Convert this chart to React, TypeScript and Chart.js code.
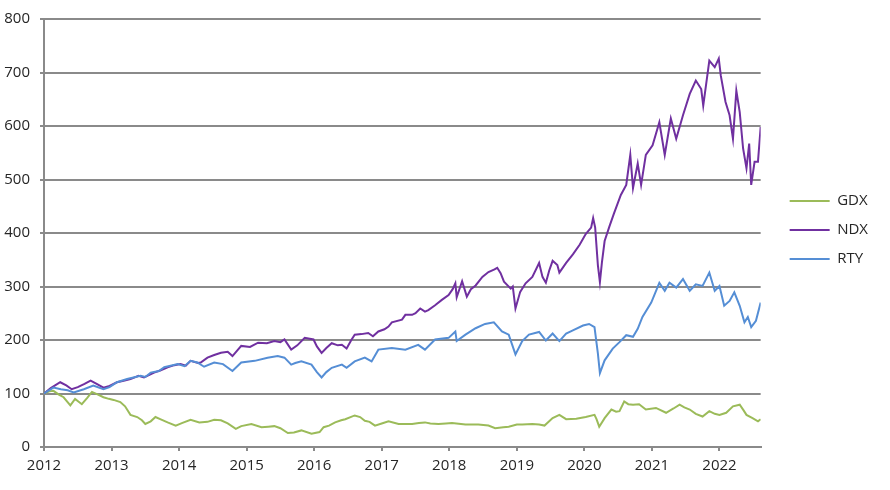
import React, { useEffect, useRef } from "react";
import { Chart, registerables } from "chart.js";

Chart.register(...registerables);

const yearTicks = [2012, 2013, 2014, 2015, 2016, 2017, 2018, 2019, 2020, 2021, 2022];
const xMin = 2012;
const xMax = 2022.61;

const gdxDates = [
  2012.0, 2012.08, 2012.14, 2012.22, 2012.29, 2012.39, 2012.46, 2012.56, 2012.64, 2012.71, 2012.8, 2012.88, 2012.96,
  2013.03, 2013.13, 2013.2, 2013.28, 2013.38, 2013.45, 2013.5, 2013.58, 2013.65, 2013.72, 2013.83, 2013.95,
  2014.05, 2014.17, 2014.3, 2014.42, 2014.52, 2014.62, 2014.72, 2014.84, 2014.92,
  2015.07, 2015.22, 2015.32, 2015.41, 2015.5, 2015.61, 2015.7, 2015.81, 2015.96,
  2016.08, 2016.14, 2016.22, 2016.31, 2016.4, 2016.46, 2016.6, 2016.68, 2016.75, 2016.82, 2016.9,
  2017.0, 2017.1, 2017.25, 2017.45, 2017.55, 2017.64, 2017.72, 2017.84, 2017.95,
  2018.04, 2018.24, 2018.43, 2018.58, 2018.68, 2018.8, 2018.88,
  2019.0, 2019.08, 2019.23, 2019.33, 2019.41, 2019.53, 2019.63, 2019.73, 2019.88,
  2020.02, 2020.15, 2020.18, 2020.22, 2020.3, 2020.4, 2020.47, 2020.52, 2020.59, 2020.65, 2020.72, 2020.81, 2020.91,
  2021.06, 2021.21, 2021.32, 2021.41, 2021.48, 2021.56, 2021.65, 2021.75, 2021.85, 2021.93,
  2022.0, 2022.1, 2022.2, 2022.3, 2022.36, 2022.4, 2022.49, 2022.57, 2022.61,
];
const gdxValues = [
  100, 104, 105, 98, 93, 78, 90, 80, 92, 103, 98, 93, 90,
  88, 84, 76, 60, 56, 50, 43, 48, 56, 52, 46, 40,
  45, 51, 46, 47, 51, 50, 44, 34, 39,
  43, 37, 38, 39, 35, 26, 27, 31, 25,
  28, 37, 40, 46, 50, 52, 59, 56, 49, 47, 40,
  44, 48, 43, 43, 45, 46, 44, 43, 44,
  45, 42, 42, 40, 35, 37, 38,
  42, 42, 43, 42, 40, 54, 60, 52, 53,
  56, 60, 52, 38, 54, 70, 66, 67, 85, 80, 79, 80, 70,
  73, 64, 72, 79, 74, 70, 62, 57, 67, 62,
  60, 64, 76, 79, 68, 60, 54, 48, 52,
];

const ndxDates = [
  2012.0, 2012.1, 2012.24, 2012.33, 2012.41, 2012.5, 2012.6, 2012.69, 2012.78, 2012.88, 2012.97,
  2013.08, 2013.18, 2013.28, 2013.4, 2013.48, 2013.63, 2013.72, 2013.83, 2013.93,
  2014.02, 2014.1, 2014.17, 2014.28, 2014.32, 2014.42, 2014.52, 2014.62, 2014.72, 2014.79, 2014.92,
  2015.05, 2015.17, 2015.3, 2015.41, 2015.5, 2015.56, 2015.66, 2015.75, 2015.86, 2015.99,
  2016.04, 2016.11, 2016.18, 2016.26, 2016.35, 2016.41, 2016.48, 2016.55, 2016.6, 2016.7, 2016.8, 2016.87, 2016.95,
  2017.04, 2017.1, 2017.15, 2017.3, 2017.35, 2017.45, 2017.5, 2017.57, 2017.64, 2017.69, 2017.79, 2017.89, 2017.99,
  2018.05, 2018.09, 2018.11, 2018.19, 2018.26, 2018.32, 2018.39, 2018.49, 2018.58, 2018.67, 2018.71, 2018.76, 2018.81, 2018.91, 2018.94, 2018.98,
  2019.05, 2019.13, 2019.23, 2019.33, 2019.38, 2019.43, 2019.48, 2019.53, 2019.6, 2019.63, 2019.73, 2019.83, 2019.93,
  2020.02, 2020.1, 2020.13, 2020.16, 2020.2, 2020.23, 2020.26, 2020.3, 2020.37, 2020.44, 2020.54, 2020.62, 2020.68, 2020.72, 2020.79, 2020.84, 2020.91,
  2021.01, 2021.11, 2021.19, 2021.28, 2021.36, 2021.46, 2021.56, 2021.65, 2021.73, 2021.76, 2021.85, 2021.93, 2021.99,
  2022.02, 2022.09, 2022.15, 2022.2, 2022.25, 2022.3, 2022.35, 2022.4, 2022.44, 2022.47, 2022.52, 2022.57, 2022.61,
];
const ndxValues = [
  100, 110, 121, 115, 108, 112, 118, 124, 118, 111, 114,
  121, 124, 127, 133, 130, 139, 143, 149, 153,
  155, 152, 161, 157, 158, 167, 172, 176, 178, 170, 189,
  187, 195, 194, 198, 196, 201, 182, 190, 204, 201,
  188, 176, 185, 194, 190, 191, 184, 200, 210, 211, 213, 207, 216,
  220, 225, 233, 238, 247, 247, 250, 259, 253, 256, 265, 275, 284,
  295, 306, 280, 310, 281, 295, 302, 318, 327, 332, 335, 325, 309, 296, 300, 259,
  290, 306, 318, 344, 318, 307, 330, 348, 340, 326, 344, 360, 378,
  398, 410, 428, 410, 340, 308, 345, 385, 412, 437, 471, 490, 546, 484, 530, 490, 546,
  564, 607, 546, 614, 576, 620, 660, 685, 669, 638, 722, 710, 726,
  694, 645, 620, 576, 666, 626, 558, 521, 567, 490, 533, 533, 598,
];

const rtyDates = [
  2012.0, 2012.14, 2012.25, 2012.35, 2012.44, 2012.59, 2012.73, 2012.88, 2012.97,
  2013.08, 2013.23, 2013.43, 2013.5, 2013.58, 2013.7, 2013.78, 2013.98,
  2014.08, 2014.17, 2014.27, 2014.37, 2014.52, 2014.65, 2014.79, 2014.92,
  2015.12, 2015.31, 2015.46, 2015.56, 2015.66, 2015.72, 2015.81, 2015.96,
  2016.04, 2016.11, 2016.18, 2016.26, 2016.41, 2016.48, 2016.6, 2016.75, 2016.85, 2016.95,
  2017.15, 2017.35, 2017.54, 2017.64, 2017.79, 2017.99,
  2018.09, 2018.11, 2018.24, 2018.39, 2018.53, 2018.66, 2018.78, 2018.88, 2018.98,
  2019.08, 2019.18, 2019.33, 2019.43, 2019.53, 2019.63, 2019.73, 2019.83, 2019.98,
  2020.07, 2020.15, 2020.2, 2020.23, 2020.3, 2020.42, 2020.52, 2020.62, 2020.72, 2020.79, 2020.86, 2020.99,
  2021.11, 2021.19, 2021.26, 2021.36, 2021.46, 2021.56, 2021.65, 2021.75, 2021.85, 2021.93,
  2022.0, 2022.07, 2022.15, 2022.22, 2022.3, 2022.37, 2022.42, 2022.47, 2022.54, 2022.61,
];
const rtyValues = [
  100, 111, 108, 106, 102, 108, 115, 108, 112,
  121, 127, 133, 131, 139, 142, 149, 155,
  151, 161, 158, 150, 158, 155, 142, 158,
  161, 167, 170, 167, 154, 157, 160, 154,
  140, 130, 140, 148, 154, 148, 160, 167, 160, 182,
  185, 182, 191, 182, 201, 204,
  216, 198, 210, 222, 230, 233, 216, 210, 173,
  198, 210, 215, 199, 212, 198, 212, 218, 227,
  230, 224, 175, 138, 162, 184, 196, 209, 206, 221, 243, 270,
  307, 292, 307, 298, 314, 292, 304, 301, 326, 292,
  301, 264, 273, 289, 264, 233, 243, 224, 236, 270,
];

const seriesNames = ["GDX", "NDX", "RTY"];
const seriesColors = ["#9bbb59", "#7030a0", "#558ed5"];

const toPoints = (dates: number[], values: number[]) =>
  dates.map((d, i) => ({ x: d, y: values[i] }));

const FONT = "'Open Sans', 'DejaVu Sans', sans-serif";
const TEXT = "#262626";
const GRID = "#8a8a8a";

const legendShift = {
  id: "legendShift",
  afterLayout(chart: any) {
    if (chart.legend) {
      chart.legend.top -= 3;
      chart.legend.bottom -= 3;
    }
  },
};

export default function App() {
  const ref = useRef<HTMLCanvasElement | null>(null);

  useEffect(() => {
    document.body.style.margin = "0";
    if (!ref.current) return;
    const seriesData = [
      toPoints(gdxDates, gdxValues),
      toPoints(ndxDates, ndxValues),
      toPoints(rtyDates, rtyValues),
    ];
    const chart = new Chart(ref.current, {
      type: "line",
      data: {
        datasets: seriesNames.map((name, i) => ({
          label: name,
          data: seriesData[i],
          borderColor: seriesColors[i],
          backgroundColor: seriesColors[i],
          borderWidth: 2,
          pointRadius: 0,
          tension: 0,
          fill: false,
          order: 2 - i,
        })),
      },
      plugins: [legendShift],
      options: {
        responsive: false,
        animation: false,
        layout: { padding: { top: 16, left: 0, right: 12, bottom: 0 } },
        plugins: {
          tooltip: { enabled: false },
          legend: {
            position: "right",
            fullSize: false,
            align: "center",
            labels: {
              usePointStyle: true,
              pointStyle: "line",
              pointStyleWidth: 40,
              padding: 14,
              color: TEXT,
              font: { family: FONT, size: 15 },
              sort: (a: any, b: any) => a.datasetIndex - b.datasetIndex,
            },
          },
        },
        scales: {
          x: {
            type: "linear",
            min: xMin,
            max: xMax,
            afterBuildTicks: (axis: any) => {
              axis.ticks = yearTicks.map((v) => ({ value: v }));
            },
            afterFit: (s: any) => {
              s.height = 43;
            },
            grid: {
              display: true,
              drawOnChartArea: false,
              drawTicks: true,
              tickLength: 4,
              color: GRID,
              lineWidth: 2,
            },
            border: { display: true, color: GRID, width: 2 },
            ticks: {
              autoSkip: false,
              maxRotation: 0,
              padding: 6,
              color: TEXT,
              font: { family: FONT, size: 15 },
              callback: (v: any) => String(v),
            },
          },
          y: {
            type: "linear",
            position: "left",
            min: 0,
            max: 800,
            afterFit: (s: any) => {
              s.width = 44;
            },
            grid: {
              color: GRID,
              lineWidth: 2,
              tickLength: 4,
            },
            border: { display: true, color: GRID, width: 2 },
            ticks: {
              stepSize: 100,
              padding: 10,
              color: TEXT,
              font: { family: FONT, size: 15 },
            },
          },
          yRight: {
            type: "linear",
            position: "right",
            display: true,
            afterFit: (s: any) => {
              s.width = 15;
            },
            grid: { display: false, drawTicks: false },
            border: { display: false },
            ticks: { display: false },
          },
        },
      },
    });
    return () => chart.destroy();
  }, []);

  return (
    <div style={{ width: 890, height: 490 }}>
      <canvas ref={ref} width={890} height={490} />
    </div>
  );
}
